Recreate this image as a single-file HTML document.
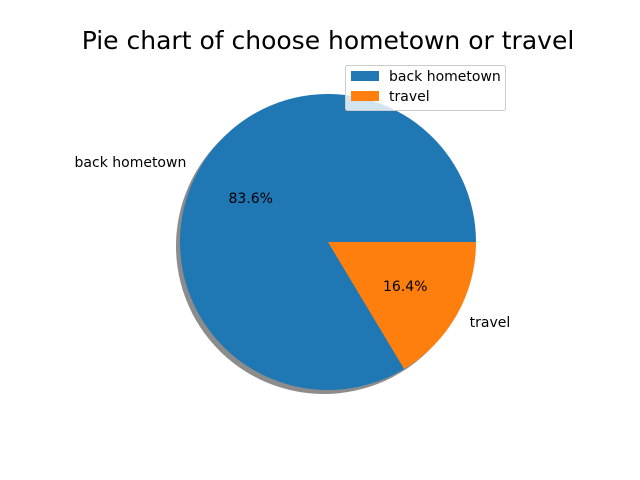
<!DOCTYPE html>
<html><head><meta charset="utf-8"><style>
body{margin:0;background:#fff;}
svg{display:block;font-family:"DejaVu Sans","Liberation Sans",sans-serif;}
</style></head><body>
<svg id="chart" width="640" height="480" viewBox="0 0 640 480">
<rect width="640" height="480" fill="#fff"/>
<text x="328" y="49" font-size="25" text-anchor="middle" fill="#000">Pie chart of choose hometown or travel</text>
<g id="shadow"></g>
<g id="slices"></g>
<g id="labels"></g>
<g>
<rect x="345.5" y="65.5" width="160" height="45" rx="2" fill="#fff" fill-opacity="0.8" stroke="#ccc"/>
<rect x="351" y="71" width="28" height="10" fill="#1f77b4"/>
<text x="389" y="81" font-size="14">back hometown</text>
<rect x="351" y="91" width="28" height="10" fill="#ff7f0e"/>
<text x="389" y="101" font-size="14">travel</text>
</g>
</svg>
<script>
const categories = ["back hometown", "travel"];
const values = [83.6, 16.4];
const colors = ["#1f77b4", "#ff7f0e"];
const cx = 328, cy = 242, r = 148;
const NS = "http://www.w3.org/2000/svg";
const total = values.reduce((a,b)=>a+b,0);
function pt(a, rad, ox, oy){ return [ox + rad*Math.cos(a), oy - rad*Math.sin(a)]; }
function arcPath(a0, a1, ox, oy){
  const p0 = pt(a0, r, ox, oy), p1 = pt(a1, r, ox, oy);
  const large = (a1 - a0) > Math.PI ? 1 : 0;
  return `M${ox},${oy} L${p0[0]},${p0[1]} A${r},${r} 0 ${large} 0 ${p1[0]},${p1[1]} Z`;
}
const sh = document.getElementById('shadow'), sl = document.getElementById('slices'), lb = document.getElementById('labels');
let a = 0;
values.forEach((v, i) => {
  const a1 = a + v/total*2*Math.PI;
  const s = document.createElementNS(NS, 'path');
  s.setAttribute('d', arcPath(a, a1, cx-4, cy+4));
  s.setAttribute('fill', '#000'); s.setAttribute('fill-opacity', '0.45');
  
  
  sh.appendChild(s);
  const p = document.createElementNS(NS, 'path');
  p.setAttribute('d', arcPath(a, a1, cx, cy));
  p.setAttribute('fill', colors[i]);
  
  
  sl.appendChild(p);
  const mid = (a + a1)/2;
  const lp = pt(mid, r*1.1, cx, cy);
  const t = document.createElementNS(NS, 'text');
  t.setAttribute('x', lp[0]); t.setAttribute('y', lp[1]+5);
  t.setAttribute('font-size', '14');
  t.setAttribute('text-anchor', Math.cos(mid) < 0 ? 'end' : 'start');
  t.textContent = categories[i];
  
  
  lb.appendChild(t);
  const pp = pt(mid, r*0.6, cx, cy);
  const pt2 = document.createElementNS(NS, 'text');
  pt2.setAttribute('x', pp[0]); pt2.setAttribute('y', pp[1]+5);
  pt2.setAttribute('font-size', '14');
  pt2.setAttribute('text-anchor', 'middle');
  pt2.textContent = (v/total*100).toFixed(1) + '%';
  
  
  lb.appendChild(pt2);
  a = a1;
});
</script>
</body></html>
